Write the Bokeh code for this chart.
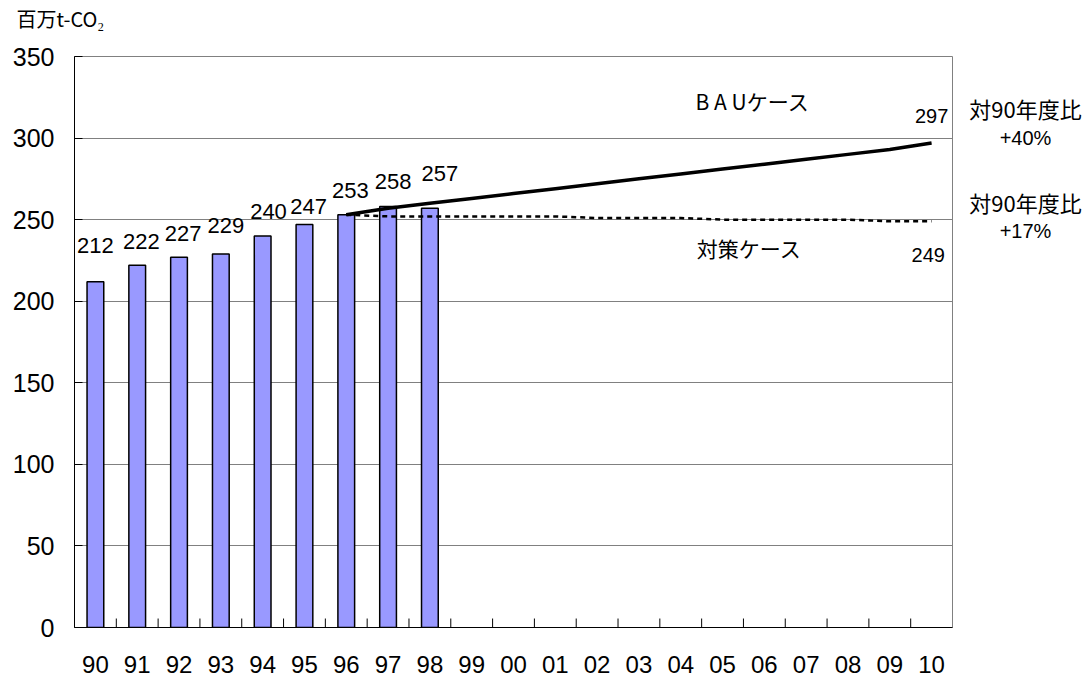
from bokeh.plotting import figure
from bokeh.layouts import row, column
from bokeh.models import Range1d, FixedTicker, ColumnDataSource
from bokeh.core.properties import value
from bokeh.embed import file_html
from bokeh.resources import INLINE

# ---- data ----
years = ["90", "91", "92", "93", "94", "95", "96", "97", "98", "99", "00",
         "01", "02", "03", "04", "05", "06", "07", "08", "09", "10"]
actual_years = ["90", "91", "92", "93", "94", "95", "96", "97", "98"]
actual = [212, 222, 227, 229, 240, 247, 253, 258, 257]
proj_years = ["96", "97", "98", "99", "00", "01", "02", "03", "04", "05",
              "06", "07", "08", "09", "10"]
bau = [253, 257, 260, 263, 266, 269, 272, 275, 278, 281, 284, 287, 290, 293, 297]
policy = [253, 252, 252, 252, 252, 252, 251, 251, 251, 250, 250, 250, 250, 249, 249]
y_ticks = [0, 50, 100, 150, 200, 250, 300, 350]
unit_label = "百万t-CO₂"
side_heads = ["対90年度比", "対90年度比"]
side_pcts = ["+40%", "+17%"]
side_head_y = [318.4, 261.1]
side_pct_y = [300.0, 243.3]

# label placement (styling, not data)
lab_pad = [22, 14.6, 14.5, 17.4, 15, 11, 14.9, 15.4, 21.3]   # data units above bar
lab_dx = [0, 0.1, 0.1, 0.12, 0.14, 0.1, 0.1, 0.12, 0.24]     # category units

NUM = "Liberation Sans"
JP = "Noto Sans CJK JP"
STRIP = 40
TOP, BOTTOM = 16, 53
MAIN_H = 680 - STRIP

def cx(y):
    return years.index(y) + 0.5

# ---- top strip with the unit label ----
head = figure(width=1090, height=STRIP, output_backend="svg", toolbar_location=None,
              title=None, x_range=Range1d(0, 1090), y_range=Range1d(0, STRIP),
              min_border=0)
head.axis.visible = False
head.grid.visible = False
head.outline_line_color = None
head.text(x=[16], y=[STRIP - 18], text=[unit_label], text_font=value(JP),
          text_font_size="20px", text_align="left", text_baseline="middle",
          text_color="black")

# ---- main chart ----
yr = Range1d(0, 350)
p = figure(width=960, height=MAIN_H, output_backend="svg", toolbar_location=None,
           title=None, x_range=Range1d(0, len(years)), y_range=yr,
           min_border_left=74, min_border_right=8, min_border_top=TOP,
           min_border_bottom=BOTTOM)
p.outline_line_color = "#808080"
p.outline_line_width = 1

# grid
p.xgrid.visible = False
p.ygrid.ticker = FixedTicker(ticks=y_ticks)
p.ygrid.grid_line_color = "#808080"
p.ygrid.grid_line_width = 1

# y axis
p.yaxis.ticker = FixedTicker(ticks=y_ticks)
p.yaxis.major_tick_in = 8
p.yaxis.major_tick_out = 0
p.yaxis.minor_tick_line_color = None
p.yaxis.axis_line_color = "black"
p.yaxis.major_tick_line_color = "black"
p.yaxis.major_label_text_font = NUM
p.yaxis.major_label_text_font_size = "25px"
p.yaxis.major_label_text_color = "black"
p.yaxis.major_label_standoff = 20

# x axis: labels at category centres
centers = [i + 0.5 for i in range(len(years))]
p.xaxis.ticker = FixedTicker(ticks=centers)
p.xaxis.major_label_overrides = {c: y for c, y in zip(centers, years)}
p.xaxis.axis_line_color = "black"
p.xaxis.major_tick_line_color = None
p.xaxis.minor_tick_line_color = None
p.xaxis.major_label_text_font = NUM
p.xaxis.major_label_text_font_size = "24px"
p.xaxis.major_label_text_color = "black"
p.xaxis.major_label_standoff = 22

# category boundary ticks (inward)
bounds = list(range(1, len(years)))
p.segment(x0=bounds, y0=[0] * len(bounds), x1=bounds, y1=[5.5] * len(bounds),
          line_color="black", line_width=1)

# bars
bar_src = ColumnDataSource(dict(x=[cx(y) for y in actual_years], top=actual))
p.vbar(x="x", top="top", width=0.4, source=bar_src, fill_color="#9999FF",
       line_color="black", line_width=1.5)

# projection lines
px = [cx(y) for y in proj_years]
p.line(px, policy, line_color="black", line_width=2.5, line_dash="5 4")
p.line(px, bau, line_color="black", line_width=3.5)

# bar labels
p.text(x=[cx(y) + d for y, d in zip(actual_years, lab_dx)],
       y=[v + d for v, d in zip(actual, lab_pad)],
       text=[str(v) for v in actual], text_font=value(NUM), text_font_size="22px",
       text_align="center", text_baseline="middle", text_color="black")

# end values
p.text(x=[cx(proj_years[-1]), cx(proj_years[-1]) - 0.08],
       y=[bau[-1] + 16.8, policy[-1] - 20.7],
       text=[str(bau[-1]), str(policy[-1])], text_font=value(NUM),
       text_font_size="20px", text_align="center", text_baseline="middle",
       text_color="black")

# series names
p.text(x=[16.22, 16.14], y=[323, 232.6], text=["B A Uケース", "対策ケース"],
       text_font=value(JP), text_font_size="21px", text_align="center",
       text_baseline="middle", text_color="black")

# ---- right-hand notes panel ----
side = figure(width=130, height=MAIN_H, output_backend="svg", toolbar_location=None,
              title=None, x_range=Range1d(0, 130), y_range=yr,
              min_border_left=0, min_border_right=0, min_border_top=TOP,
              min_border_bottom=BOTTOM)
side.axis.visible = False
side.grid.visible = False
side.outline_line_color = None
side.text(x=[65] * len(side_heads), y=side_head_y, text=side_heads,
          text_font=value(JP), text_font_size="22px", text_align="center",
          text_baseline="middle", text_color="black")
side.text(x=[65] * len(side_pcts), y=side_pct_y, text=side_pcts,
          text_font=value(NUM), text_font_size="20px", text_align="center",
          text_baseline="middle", text_color="black")

layout = column(head, row(p, side))
open("out.html", "w").write(file_html(layout, INLINE))
